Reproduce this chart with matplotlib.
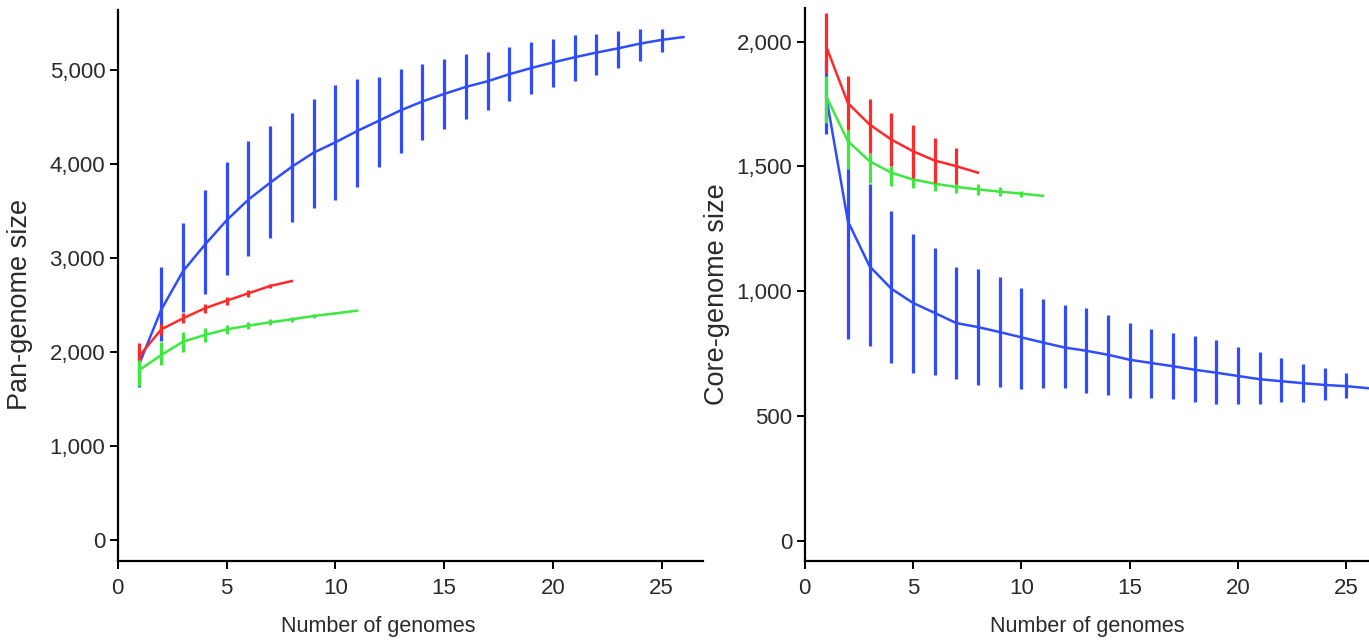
import matplotlib
matplotlib.use('Agg')
import matplotlib.pyplot as plt
from matplotlib.ticker import StrMethodFormatter
import numpy as np

plt.rcParams['font.family'] = ['Liberation Sans', 'DejaVu Sans']

# pan-genome size (left panel): mean curves, error bars at 1..n-1
pan_blue = [1880, 2450, 2860, 3140, 3400, 3620, 3800, 3970, 4120, 4230, 4350, 4460, 4570,
            4665, 4745, 4820, 4880, 4955, 5020, 5080, 5135, 5185, 5230, 5280, 5320, 5350]
pan_blue_hi = [2000, 2905, 3370, 3726, 4026, 4243, 4404, 4543, 4696, 4839, 4904, 4926, 5013,
               5065, 5113, 5174, 5196, 5239, 5296, 5326, 5370, 5383, 5413, 5439, 5439]
pan_blue_lo = [1630, 2120, 2426, 2613, 2817, 3022, 3209, 3383, 3535, 3613, 3752, 3970, 4122,
               4252, 4370, 4478, 4578, 4674, 4743, 4817, 4883, 4948, 5022, 5100, 5187]

pan_red = [1960, 2241, 2358, 2465, 2546, 2624, 2702, 2755]
pan_red_hi = [2096, 2300, 2410, 2510, 2585, 2655, 2725]
pan_red_lo = [1915, 2180, 2305, 2420, 2505, 2590, 2680]

pan_green = [1809, 1968, 2110, 2181, 2241, 2280, 2316, 2348, 2383, 2411, 2440]
pan_green_hi = [1950, 2110, 2215, 2252, 2286, 2318, 2346, 2372, 2400, 2422]
pan_green_lo = [1640, 1862, 2003, 2110, 2196, 2242, 2286, 2324, 2366, 2400]

# core-genome size (right panel)
core_blue = [1780, 1280, 1100, 1010, 953, 913, 872, 856, 836, 815, 794, 774, 761,
             745, 725, 712, 699, 685, 673, 660, 647, 639, 631, 624, 619, 611]
core_blue_hi = [1930, 1500, 1430, 1320, 1231, 1174, 1097, 1087, 1055, 1014, 970, 945, 934,
                905, 872, 848, 831, 820, 804, 777, 758, 730, 709, 693, 673]
core_blue_lo = [1630, 807, 782, 712, 673, 663, 647, 624, 614, 608, 611, 611, 592,
                582, 570, 570, 566, 554, 546, 549, 549, 554, 557, 562, 570]

core_red = [1981, 1754, 1668, 1608, 1561, 1524, 1501, 1475]
core_red_hi = [2114, 1861, 1772, 1714, 1668, 1614, 1575]
core_red_lo = [1874, 1648, 1555, 1501, 1455, 1435, 1428]

core_green = [1781, 1601, 1521, 1475, 1448, 1431, 1418, 1408, 1399, 1391, 1382]
core_green_hi = [1861, 1648, 1555, 1501, 1483, 1461, 1443, 1430, 1417, 1403]
core_green_lo = [1675, 1488, 1435, 1421, 1413, 1401, 1393, 1386, 1381, 1379]

BLUE = '#2f4dff'
RED = '#ff2a2a'
GREEN = '#3ee83e'
TXT = '#2a2a2a'


def draw(ax, mean, hi, lo, color):
    x = np.arange(1, len(mean) + 1)
    ax.plot(x, mean, color=color, lw=1.8, zorder=3)
    xb = np.arange(1, len(hi) + 1)
    ax.vlines(xb, lo, hi, color=color, lw=2.3, zorder=3)


fig = plt.figure(figsize=(13.69, 6.4), dpi=100)
ax1 = fig.add_axes([0.086, 0.1234, 0.4275, 0.861])
ax2 = fig.add_axes([0.5877, 0.1234, 0.4123, 0.864])

draw(ax1, pan_blue, pan_blue_hi, pan_blue_lo, BLUE)
draw(ax1, pan_green, pan_green_hi, pan_green_lo, GREEN)
draw(ax1, pan_red, pan_red_hi, pan_red_lo, RED)

draw(ax2, core_blue, core_blue_hi, core_blue_lo, BLUE)
draw(ax2, core_green, core_green_hi, core_green_lo, GREEN)
draw(ax2, core_red, core_red_hi, core_red_lo, RED)

ax1.set_xlim(0, 26.9)
ax1.set_ylim(-223, 5638)
ax1.set_yticks([0, 1000, 2000, 3000, 4000, 5000])
ax1.set_ylabel('Pan-genome size', fontsize=19.5, color=TXT)
ax1.yaxis.set_label_coords(-0.145, 0.466)

ax2.set_xlim(0, 26.05)
ax2.set_ylim(-82, 2135)
ax2.set_yticks([0, 500, 1000, 1500, 2000])
ax2.set_ylabel('Core-genome size', fontsize=19.5, color=TXT)
ax2.yaxis.set_label_coords(-0.132, 0.483)

for ax in (ax1, ax2):
    ax.set_xticks([0, 5, 10, 15, 20, 25])
    ax.yaxis.set_major_formatter(StrMethodFormatter('{x:,.0f}'))
    ax.set_xlabel('Number of genomes', fontsize=15.5, color=TXT, labelpad=14)
    ax.spines['top'].set_visible(False)
    ax.spines['right'].set_visible(False)
    ax.spines['left'].set_linewidth(1.6)
    ax.spines['bottom'].set_linewidth(1.6)
    ax.tick_params(direction='out', length=6, width=1.4, labelsize=16,
                   labelcolor=TXT, pad=3)
    ax.tick_params(axis='x', pad=6)

# left x label sits left of the axes centre in the original
ax1.xaxis.set_label_coords(0.445, -0.10)
ax2.xaxis.set_label_coords(0.5, -0.10)

fig.savefig('out.png', dpi=100)
